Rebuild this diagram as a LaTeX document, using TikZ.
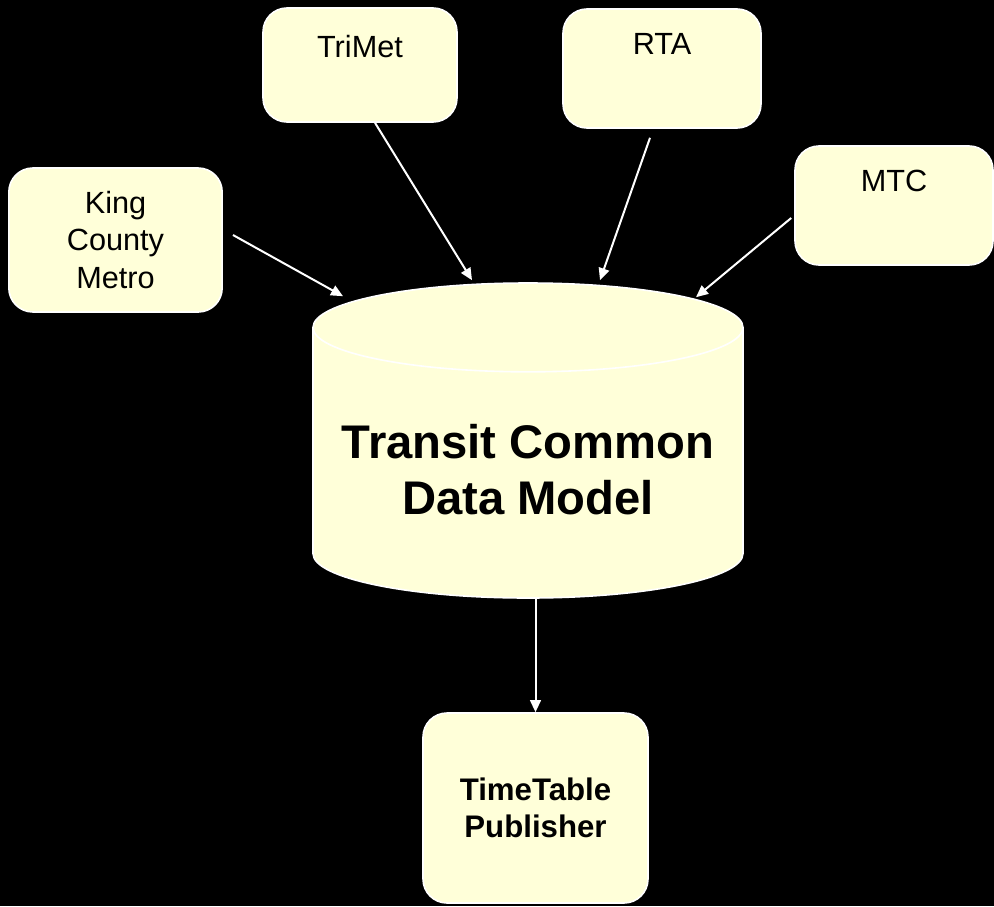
\documentclass[tikz,border=0pt]{standalone}
\usepackage{fontspec}
\setmainfont{Liberation Sans}
\usepackage{tikz}
\usetikzlibrary{positioning}
\usetikzlibrary{shapes.geometric}
\usetikzlibrary{arrows.meta}
\definecolor{boxfill}{RGB}{255,255,217}
\tikzset{
    x=0.75pt, y=-0.75pt, % One unit is one pixel of the slide, measured from the top
    agency/.style={ % Sets the properties for each source box
        draw=white,
        line width=1.2pt,
        fill=boxfill,
        rounded corners=18pt,
        align=center,
        font=\fontsize{23}{28}\selectfont
    },
    store/.style={ % The common data model
        cylinder,
        shape border rotate=90,
        aspect=0.233,
        draw=white,
        line width=1.2pt,
        fill=boxfill,
        inner ysep=0pt,
        minimum width=322.5pt,
        minimum height=236.25pt,
        align=center,
        text height=71pt,
        font=\fontsize{35.4}{42.5}\selectfont\bfseries
    },
    every edge/.style={ % Sets the properties for each feed
        draw=white,
        line width=1.5pt,
        -{Triangle[length=9pt,width=8pt]}
    }
}
\begin{document}
\begin{tikzpicture}
    \useasboundingbox[fill=black] (0,0) rectangle (994,906);

    \node[store, anchor=shape center] (db) at (528,440.5) {Transit Common\\Data Model};

    \node[agency, minimum width=160pt, minimum height=108pt] (kcm) at (115.5,240) {King\\County\\Metro};
    \node[agency, minimum width=145.5pt, minimum height=85.5pt] (trimet) at (360,65) {TriMet\\\mbox{}};
    \node[agency, minimum width=148.5pt, minimum height=89.25pt] (rta) at (662,68.5) {RTA\\\strut};
    \node[agency, minimum width=148.5pt, minimum height=89.25pt] (mtc) at (894,205.5) {MTC\\\strut};
    \node[agency, minimum width=168.75pt, minimum height=142.5pt,
          font=\fontsize{23.4}{27.8}\selectfont\bfseries] (tt) at (535.5,808) {TimeTable\\Publisher};

    \draw ([shift={(10,-5)}]kcm.east) edge ([shift={(-185,14)}]db.north);
    \draw ([shift={(15,0)}]trimet.south) edge ([shift={(-56,-2)}]db.north);
    \draw ([shift={(-12,9)}]rta.south) edge ([shift={(72,-2)}]db.north);
    \draw ([shift={(-3,12.5)}]mtc.west) edge ([shift={(168,15)}]db.north);

    \draw (db.south -| tt.north) edge (tt.north);
\end{tikzpicture}
\end{document}
